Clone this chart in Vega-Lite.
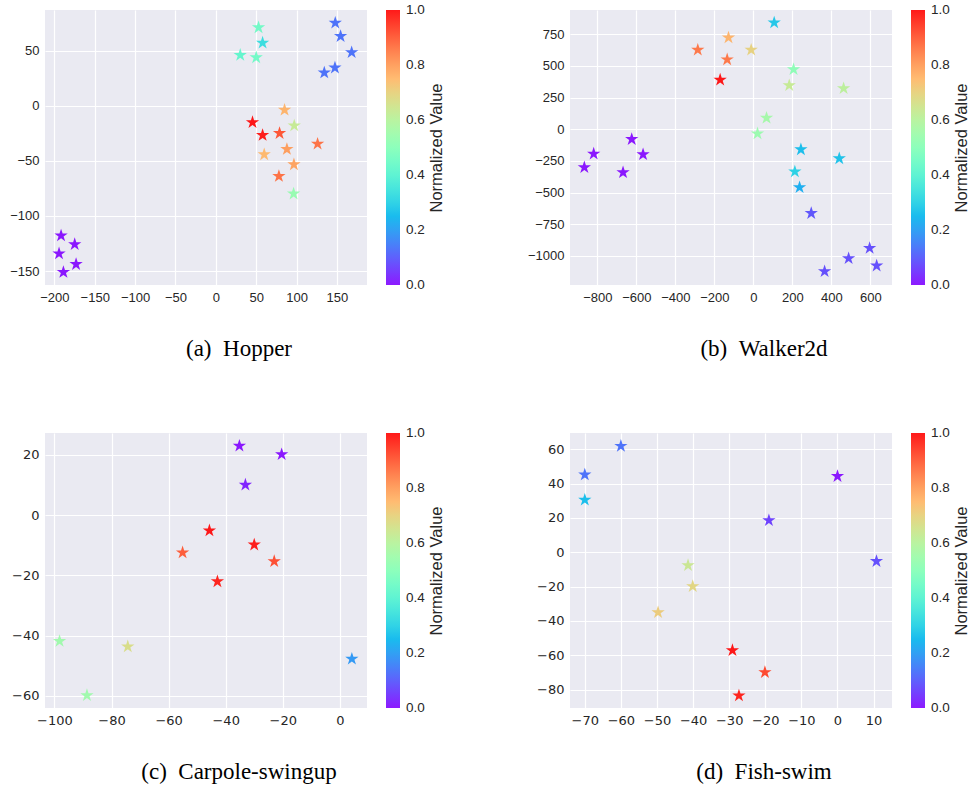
{
  "$schema": "https://vega.github.io/schema/vega-lite/v6.json",
  "padding": {"left": 9, "top": 10, "right": 5, "bottom": 5},
  "datasets": {
    "hopper": [
      {"x": 52.9, "y": 70.9, "v": 0.45}, {"x": 57.9, "y": 57.0, "v": 0.33}, {"x": 30.2, "y": 45.9, "v": 0.42}, {"x": 50.0, "y": 43.7, "v": 0.45},
      {"x": 147.9, "y": 75.1, "v": 0.13}, {"x": 154.5, "y": 63.0, "v": 0.13}, {"x": 168.2, "y": 48.3, "v": 0.13}, {"x": 147.5, "y": 34.4, "v": 0.13}, {"x": 134.3, "y": 29.9, "v": 0.13},
      {"x": 85.1, "y": -3.9, "v": 0.76}, {"x": 97.1, "y": -18.1, "v": 0.63}, {"x": 45.4, "y": -15.1, "v": 1.0}, {"x": 57.9, "y": -26.8, "v": 0.99}, {"x": 78.9, "y": -25.0, "v": 0.91},
      {"x": 126.0, "y": -34.7, "v": 0.87}, {"x": 88.0, "y": -39.5, "v": 0.8}, {"x": 59.9, "y": -44.3, "v": 0.75}, {"x": 96.7, "y": -53.4, "v": 0.79}, {"x": 78.1, "y": -64.0, "v": 0.87}, {"x": 96.3, "y": -79.9, "v": 0.53},
      {"x": -191.7, "y": -117.9, "v": 0.0}, {"x": -174.8, "y": -125.8, "v": 0.0}, {"x": -194.2, "y": -134.2, "v": 0.0}, {"x": -173.1, "y": -143.9, "v": 0.0}, {"x": -188.8, "y": -151.1, "v": 0.0}
    ],
    "walker": [
      {"x": 107, "y": 841, "v": 0.28}, {"x": -127.4, "y": 723, "v": 0.76}, {"x": -284.9, "y": 626, "v": 0.86}, {"x": -11, "y": 626, "v": 0.7}, {"x": -134.2, "y": 550, "v": 0.86},
      {"x": -170.2, "y": 390, "v": 1.0}, {"x": 206.3, "y": 472, "v": 0.51}, {"x": 184.1, "y": 346, "v": 0.63}, {"x": 463, "y": 322, "v": 0.61}, {"x": 67.7, "y": 89, "v": 0.56},
      {"x": 21.5, "y": -34, "v": 0.54}, {"x": 244, "y": -160, "v": 0.26}, {"x": 440.8, "y": -231, "v": 0.27}, {"x": 213, "y": -335, "v": 0.3}, {"x": 237.1, "y": -459, "v": 0.23},
      {"x": 297, "y": -663, "v": 0.09}, {"x": 596.5, "y": -938, "v": 0.08}, {"x": 488.7, "y": -1019, "v": 0.08}, {"x": 632.5, "y": -1077, "v": 0.08}, {"x": 365.5, "y": -1122, "v": 0.08},
      {"x": -866.7, "y": -301, "v": 0.0}, {"x": -818.8, "y": -194, "v": 0.0}, {"x": -623.7, "y": -79, "v": 0.0}, {"x": -565.5, "y": -199, "v": 0.0}, {"x": -668.2, "y": -341, "v": 0.0}
    ],
    "cartpole": [
      {"x": -35.2, "y": 23.0, "v": 0.0}, {"x": -20.4, "y": 20.2, "v": 0.0}, {"x": -33.1, "y": 10.1, "v": 0.02},
      {"x": -45.7, "y": -5.1, "v": 1.0}, {"x": -55.1, "y": -12.4, "v": 0.9}, {"x": -30.0, "y": -9.8, "v": 0.99}, {"x": -23.0, "y": -15.3, "v": 0.92}, {"x": -42.9, "y": -22.0, "v": 0.98},
      {"x": -98.2, "y": -41.8, "v": 0.55}, {"x": -74.3, "y": -43.6, "v": 0.67}, {"x": -88.6, "y": -59.8, "v": 0.55}, {"x": 4.2, "y": -47.7, "v": 0.19}
    ],
    "fish": [
      {"x": -60.0, "y": 61.9, "v": 0.13}, {"x": -70.0, "y": 45.2, "v": 0.13}, {"x": -70.0, "y": 30.5, "v": 0.26}, {"x": 0.0, "y": 44.3, "v": 0.0},
      {"x": -19.0, "y": 18.6, "v": 0.06}, {"x": 10.8, "y": -5.2, "v": 0.08}, {"x": -41.4, "y": -7.6, "v": 0.64}, {"x": -40.1, "y": -19.8, "v": 0.69},
      {"x": -49.7, "y": -35.0, "v": 0.71}, {"x": -29.1, "y": -57.1, "v": 1.0}, {"x": -20.1, "y": -69.9, "v": 0.93}, {"x": -27.3, "y": -83.5, "v": 0.98}
    ]
  },
  "columns": 2,
  "spacing": {"row": 148, "column": 203},
  "bounds": "flush",
  "resolve": {"scale": {"color": "independent", "x": "independent", "y": "independent"}, "legend": {"color": "independent"}},
  "concat": [
    {
      "width": 322, "height": 275,
      "data": {"name": "hopper"},
      "title": {"text": "(a)\u2002Hopper"},
      "mark": {"type": "point", "shape": "M0,-1L0.225,-0.309L0.951,-0.309L0.363,0.118L0.588,0.809L0,0.382L-0.588,0.809L-0.363,0.118L-0.951,-0.309L-0.225,-0.309Z", "filled": true, "size": 195, "opacity": 0.9},
      "encoding": {
        "x": {"field": "x", "type": "quantitative", "title": null, "scale": {"domain": [-211.6, 187.2], "nice": false, "zero": false}, "axis": {"values": [-200, -150, -100, -50, 0, 50, 100, 150], "labelFont": "Liberation Sans"}},
        "y": {"field": "y", "type": "quantitative", "title": null, "scale": {"domain": [-162.7, 86.8], "nice": false, "zero": false}, "axis": {"values": [-150, -100, -50, 0, 50], "labelFont": "Liberation Sans"}},
        "color": {"field": "v", "type": "quantitative",
          "scale": {"domain": [0, 0.0625, 0.125, 0.1875, 0.25, 0.3125, 0.375, 0.4375, 0.5, 0.5625, 0.625, 0.6875, 0.75, 0.8125, 0.875, 0.9375, 1], "range": ["#8000ff", "#6032fe", "#4062fa", "#208ef4", "#00b4ec", "#20d4e1", "#40ecd4", "#60fac5", "#80ffb4", "#9ffaa2", "#bfec8e", "#dfd478", "#ffb462", "#ff8e4a", "#ff6232", "#ff3219", "#ff0000"], "interpolate": "rgb"},
          "legend": {"title": "Normalized Value", "type": "gradient", "direction": "vertical", "orient": "right", "offset": 19, "padding": 0, "gradientLength": 275, "gradientThickness": 14, "gradientStrokeWidth": 0, "values": [0, 0.2, 0.4, 0.6, 0.8, 1], "format": ".1f", "labelFont": "Liberation Sans", "labelFontSize": 13.5, "labelColor": "#262626", "labelOffset": 6, "labelBaseline": "middle", "labelOverlap": false, "titleOrient": "right", "titleFont": "Liberation Sans", "titleFontSize": 16.5, "titleFontWeight": "normal", "titleColor": "#262626", "titleBaseline": "top", "titlePadding": 4, "titleAnchor": "middle", "encoding": {"title": {"angle": {"value": -90}}, "labels": {"baseline": {"value": "middle"}}}}
        }
      }
    },
    {
      "width": 322, "height": 275,
      "data": {"name": "walker"},
      "title": {"text": "(b)\u2002Walker2d"},
      "mark": {"type": "point", "shape": "M0,-1L0.225,-0.309L0.951,-0.309L0.363,0.118L0.588,0.809L0,0.382L-0.588,0.809L-0.363,0.118L-0.951,-0.309L-0.225,-0.309Z", "filled": true, "size": 195, "opacity": 0.9},
      "encoding": {
        "x": {"field": "x", "type": "quantitative", "title": null, "scale": {"domain": [-940.3, 711.2], "nice": false, "zero": false}, "axis": {"values": [-800, -600, -400, -200, 0, 200, 400, 600], "format": "d", "labelFont": "Liberation Sans"}},
        "y": {"field": "y", "type": "quantitative", "title": null, "scale": {"domain": [-1229, 941], "nice": false, "zero": false}, "axis": {"values": [-1000, -750, -500, -250, 0, 250, 500, 750], "format": "d", "labelFont": "Liberation Sans"}},
        "color": {"field": "v", "type": "quantitative",
          "scale": {"domain": [0, 0.0625, 0.125, 0.1875, 0.25, 0.3125, 0.375, 0.4375, 0.5, 0.5625, 0.625, 0.6875, 0.75, 0.8125, 0.875, 0.9375, 1], "range": ["#8000ff", "#6032fe", "#4062fa", "#208ef4", "#00b4ec", "#20d4e1", "#40ecd4", "#60fac5", "#80ffb4", "#9ffaa2", "#bfec8e", "#dfd478", "#ffb462", "#ff8e4a", "#ff6232", "#ff3219", "#ff0000"], "interpolate": "rgb"},
          "legend": {"title": "Normalized Value", "type": "gradient", "direction": "vertical", "orient": "right", "offset": 19, "padding": 0, "gradientLength": 275, "gradientThickness": 14, "gradientStrokeWidth": 0, "values": [0, 0.2, 0.4, 0.6, 0.8, 1], "format": ".1f", "labelFont": "Liberation Sans", "labelFontSize": 13.5, "labelColor": "#262626", "labelOffset": 6, "labelBaseline": "middle", "labelOverlap": false, "titleOrient": "right", "titleFont": "Liberation Sans", "titleFontSize": 16.5, "titleFontWeight": "normal", "titleColor": "#262626", "titleBaseline": "top", "titlePadding": 4, "titleAnchor": "middle", "encoding": {"title": {"angle": {"value": -90}}, "labels": {"baseline": {"value": "middle"}}}}
        }
      }
    },
    {
      "width": 322, "height": 275,
      "data": {"name": "cartpole"},
      "title": {"text": "(c)\u2002Carpole-swingup"},
      "mark": {"type": "point", "shape": "M0,-1L0.225,-0.309L0.951,-0.309L0.363,0.118L0.588,0.809L0,0.382L-0.588,0.809L-0.363,0.118L-0.951,-0.309L-0.225,-0.309Z", "filled": true, "size": 195, "opacity": 0.9},
      "encoding": {
        "x": {"field": "x", "type": "quantitative", "title": null, "scale": {"domain": [-103.3, 9.5], "nice": false, "zero": false}, "axis": {"values": [-100, -80, -60, -40, -20, 0], "labelFont": "DejaVu Sans"}},
        "y": {"field": "y", "type": "quantitative", "title": null, "scale": {"domain": [-64.0, 27.3], "nice": false, "zero": false}, "axis": {"values": [-60, -40, -20, 0, 20], "labelFont": "DejaVu Sans"}},
        "color": {"field": "v", "type": "quantitative",
          "scale": {"domain": [0, 0.0625, 0.125, 0.1875, 0.25, 0.3125, 0.375, 0.4375, 0.5, 0.5625, 0.625, 0.6875, 0.75, 0.8125, 0.875, 0.9375, 1], "range": ["#8000ff", "#6032fe", "#4062fa", "#208ef4", "#00b4ec", "#20d4e1", "#40ecd4", "#60fac5", "#80ffb4", "#9ffaa2", "#bfec8e", "#dfd478", "#ffb462", "#ff8e4a", "#ff6232", "#ff3219", "#ff0000"], "interpolate": "rgb"},
          "legend": {"title": "Normalized Value", "type": "gradient", "direction": "vertical", "orient": "right", "offset": 19, "padding": 0, "gradientLength": 275, "gradientThickness": 14, "gradientStrokeWidth": 0, "values": [0, 0.2, 0.4, 0.6, 0.8, 1], "format": ".1f", "labelFont": "Liberation Sans", "labelFontSize": 13.5, "labelColor": "#262626", "labelOffset": 6, "labelBaseline": "middle", "labelOverlap": false, "titleOrient": "right", "titleFont": "Liberation Sans", "titleFontSize": 16.5, "titleFontWeight": "normal", "titleColor": "#262626", "titleBaseline": "top", "titlePadding": 4, "titleAnchor": "middle", "encoding": {"title": {"angle": {"value": -90}}, "labels": {"baseline": {"value": "middle"}}}}
        }
      }
    },
    {
      "width": 322, "height": 275,
      "data": {"name": "fish"},
      "title": {"text": "(d)\u2002Fish-swim"},
      "mark": {"type": "point", "shape": "M0,-1L0.225,-0.309L0.951,-0.309L0.363,0.118L0.588,0.809L0,0.382L-0.588,0.809L-0.363,0.118L-0.951,-0.309L-0.225,-0.309Z", "filled": true, "size": 195, "opacity": 0.9},
      "encoding": {
        "x": {"field": "x", "type": "quantitative", "title": null, "scale": {"domain": [-74.1, 15.1], "nice": false, "zero": false}, "axis": {"values": [-70, -60, -50, -40, -30, -20, -10, 0, 10], "labelFont": "DejaVu Sans"}},
        "y": {"field": "y", "type": "quantitative", "title": null, "scale": {"domain": [-90.7, 69.5], "nice": false, "zero": false}, "axis": {"values": [-80, -60, -40, -20, 0, 20, 40, 60], "labelFont": "DejaVu Sans"}},
        "color": {"field": "v", "type": "quantitative",
          "scale": {"domain": [0, 0.0625, 0.125, 0.1875, 0.25, 0.3125, 0.375, 0.4375, 0.5, 0.5625, 0.625, 0.6875, 0.75, 0.8125, 0.875, 0.9375, 1], "range": ["#8000ff", "#6032fe", "#4062fa", "#208ef4", "#00b4ec", "#20d4e1", "#40ecd4", "#60fac5", "#80ffb4", "#9ffaa2", "#bfec8e", "#dfd478", "#ffb462", "#ff8e4a", "#ff6232", "#ff3219", "#ff0000"], "interpolate": "rgb"},
          "legend": {"title": "Normalized Value", "type": "gradient", "direction": "vertical", "orient": "right", "offset": 19, "padding": 0, "gradientLength": 275, "gradientThickness": 14, "gradientStrokeWidth": 0, "values": [0, 0.2, 0.4, 0.6, 0.8, 1], "format": ".1f", "labelFont": "Liberation Sans", "labelFontSize": 13.5, "labelColor": "#262626", "labelOffset": 6, "labelBaseline": "middle", "labelOverlap": false, "titleOrient": "right", "titleFont": "Liberation Sans", "titleFontSize": 16.5, "titleFontWeight": "normal", "titleColor": "#262626", "titleBaseline": "top", "titlePadding": 4, "titleAnchor": "middle", "encoding": {"title": {"angle": {"value": -90}}, "labels": {"baseline": {"value": "middle"}}}}
        }
      }
    }
  ],
  "config": {
    "background": "white",
    "view": {"fill": "#eaeaf2", "stroke": null},
    "axis": {"grid": true, "gridColor": "#ffffff", "gridWidth": 1.2, "domain": false, "ticks": false, "tickSize": 0, "labelPadding": 6, "labelColor": "#262626", "labelFontSize": 13, "labelOverlap": false, "labelFlush": false},
    "title": {"orient": "bottom", "font": "Liberation Serif", "fontSize": 23, "fontWeight": "normal", "color": "#000000", "anchor": "middle", "frame": "group", "dx": 33, "offset": 34}
  }
}
